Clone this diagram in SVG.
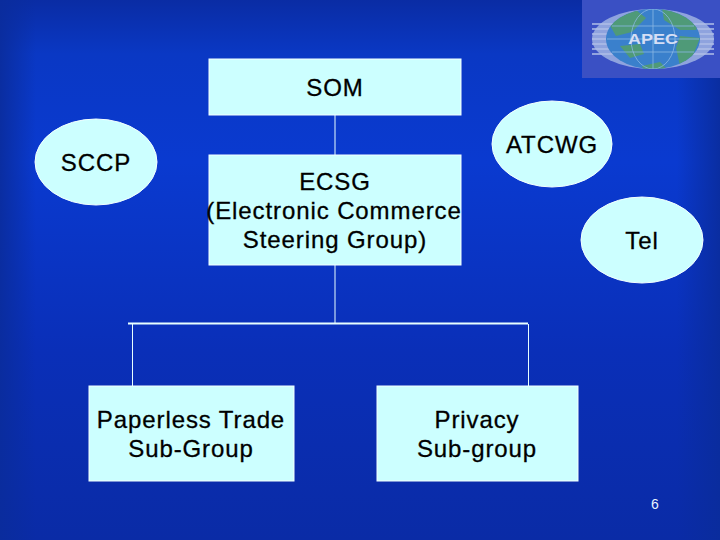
<svg xmlns="http://www.w3.org/2000/svg" width="720" height="540" viewBox="0 0 720 540">
<defs>
<linearGradient id="bgv" x1="0" y1="0" x2="0" y2="1">
<stop offset="0" stop-color="#0a2ca4"/><stop offset="0.1" stop-color="#0a38c4"/><stop offset="0.3" stop-color="#0a3ad0"/><stop offset="0.65" stop-color="#0a2fb8"/><stop offset="1" stop-color="#0a2ba6"/>
</linearGradient>
<linearGradient id="bgl" x1="0" y1="0" x2="1" y2="0">
<stop offset="0" stop-color="#0a2c9c" stop-opacity="0.9"/><stop offset="0.05" stop-color="#0a2c9c" stop-opacity="0"/><stop offset="0.94" stop-color="#0a2c9c" stop-opacity="0"/><stop offset="1" stop-color="#0a2c9c" stop-opacity="0.9"/>
</linearGradient>
<clipPath id="globe"><ellipse cx="653" cy="39" rx="47" ry="30"/></clipPath>
</defs>
<style>
.box{fill:#ccffff;stroke:#f4ffff;stroke-width:1}
.lbl{font-family:"Liberation Sans",Arial,sans-serif;font-size:24px;fill:#000;stroke:#000;stroke-width:0.3;text-anchor:middle;letter-spacing:0.9px}
.ln{stroke:#e8ffff;fill:none}
</style>
<rect width="720" height="540" fill="url(#bgv)"/>
<rect width="720" height="540" fill="url(#bgl)"/>
<g id="logo">
<rect x="582" y="0" width="138" height="78" fill="#3a50c4"/>
<ellipse cx="653" cy="39" rx="61" ry="30" fill="#8fa3de"/>
<g stroke="#b0bfe8" stroke-width="1.500"><path d="M592 24H714M592 29H714M592 34H714M592 39H714M592 44H714M592 49H714M592 54H714"/></g>
<ellipse cx="653" cy="39" rx="47" ry="30" fill="#3a80cc"/>
<g clip-path="url(#globe)">
<path d="M662 8 L702 12 L696 30 L680 30 L664 20Z" fill="#4f9a78"/>
<path d="M608 22 L636 10 L646 18 L632 32 L616 36Z" fill="#4f9a78"/>
<path d="M680 36 L700 38 L692 58 L680 66 L676 48Z" fill="#4f9a78"/>
<path d="M620 46 L640 44 L644 54 L630 58Z" fill="#4f9a78"/>
<path d="M642 66 L660 62 L668 70 L644 72Z" fill="#4f9a78"/>
<g stroke="#8cb8e4" stroke-width="0.8" fill="none"><path d="M653 9V69M607 39H699M612 26H694M612 52H694"/><ellipse cx="653" cy="39" rx="22" ry="30"/></g>
</g>
<text x="653" y="44" font-family="'Liberation Sans',Arial,sans-serif" font-size="14" font-weight="bold" fill="#d5def5" text-anchor="middle" textLength="50" lengthAdjust="spacingAndGlyphs">APEC</text>
</g>
<g id="connectors" class="ln">
<path d="M335 115V155" stroke-width="1"/>
<path d="M335 265V324" stroke-width="1"/>
<path d="M128 323.5H528" stroke-width="2"/>
<path d="M132.500 324V386" stroke-width="1"/>
<path d="M528.500 324V386" stroke-width="1"/>
</g>
<g id="som"><rect class="box" x="209" y="59" width="252" height="56"/><text class="lbl" x="335" y="96">SOM</text></g>
<g id="ecsg"><rect class="box" x="209" y="155" width="252" height="110"/><text class="lbl" x="335" y="190">ECSG</text><text class="lbl" x="334" y="219">(Electronic Commerce</text><text class="lbl" x="335" y="248">Steering Group)</text></g>
<g id="sccp"><ellipse class="box" cx="96" cy="162" rx="61" ry="43"/><text class="lbl" x="96" y="171">SCCP</text></g>
<g id="atcwg"><ellipse class="box" cx="552" cy="144" rx="60" ry="43"/><text class="lbl" x="552" y="153">ATCWG</text></g>
<g id="tel"><ellipse class="box" cx="642" cy="240" rx="61" ry="43"/><text class="lbl" x="642" y="249">Tel</text></g>
<g id="paperless"><rect class="box" x="89" y="386" width="205" height="95"/><text class="lbl" x="191" y="428">Paperless Trade</text><text class="lbl" x="191" y="457">Sub-Group</text></g>
<g id="privacy"><rect class="box" x="377" y="386" width="201" height="95"/><text class="lbl" x="477" y="428">Privacy</text><text class="lbl" x="477" y="457">Sub-group</text></g>
<text x="655" y="509" font-family="'Liberation Sans',Arial,sans-serif" font-size="14" fill="#e8f4ff" text-anchor="middle">6</text>
</svg>
